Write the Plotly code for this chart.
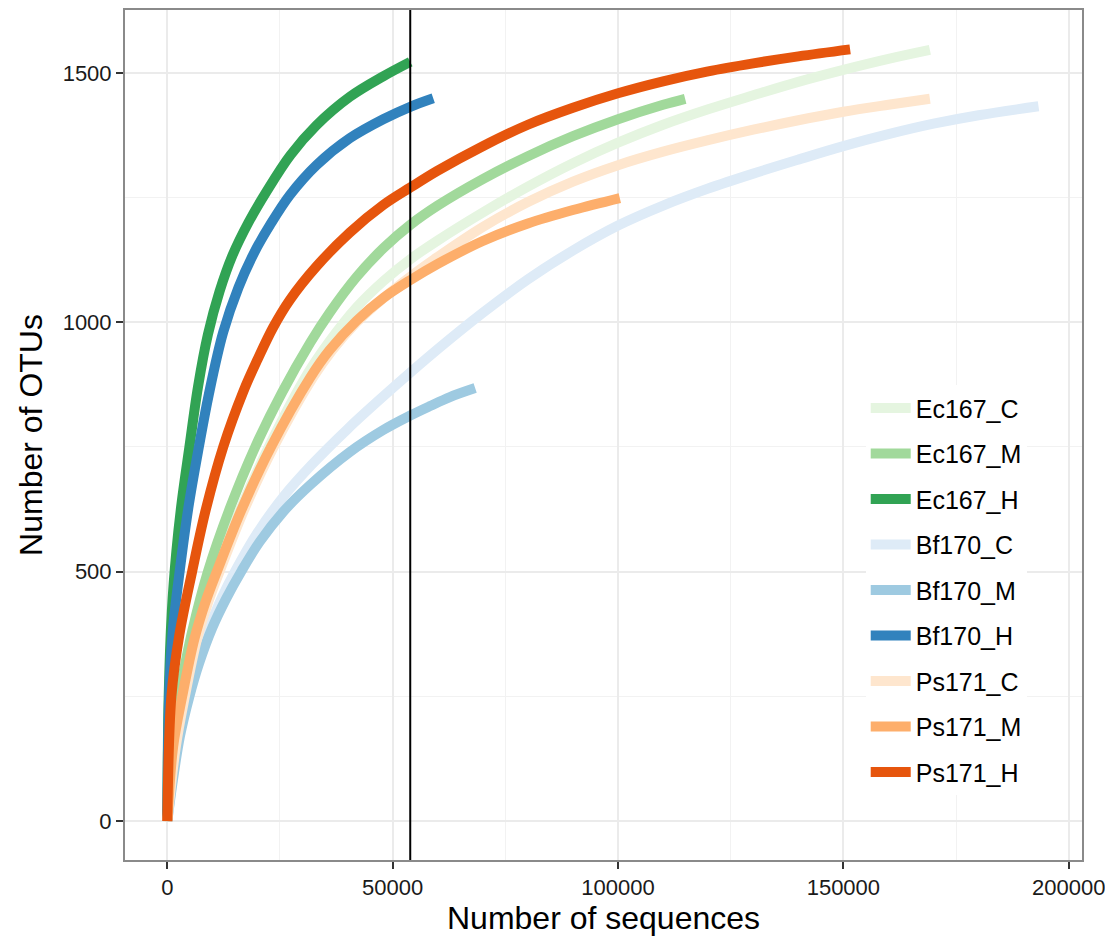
import plotly.graph_objects as go

# ---------------- data ----------------
series_names = ["Ec167_C", "Ec167_M", "Ec167_H",
                "Bf170_C", "Bf170_M", "Bf170_H",
                "Ps171_C", "Ps171_M", "Ps171_H"]
series_colors = ["#e5f5e0", "#a1d99b", "#31a354",
                 "#deebf7", "#9ecae1", "#3182bd",
                 "#fee6ce", "#fdae6b", "#e6550d"]

ec167_c_x = [0, 1100, 3100, 5800, 8300, 11000, 16200, 22500, 31000, 36000, 42000, 48000, 54000,
             60000, 70000, 80000, 90000, 100000, 110000, 120000, 130000, 140000, 150000, 160000, 169200]
ec167_c_y = [0, 150, 250, 365, 440, 505, 625, 750, 895, 962, 1030, 1083, 1127,
             1164, 1220, 1272, 1319, 1360, 1396, 1427, 1455, 1482, 1506, 1528, 1546]

ec167_m_x = [0, 1200, 3200, 5500, 9000, 14000, 19500, 25500, 31700, 36000, 42000, 48000, 54000,
             60000, 70000, 80000, 90000, 100000, 110000, 114900]
ec167_m_y = [0, 180, 280, 380, 500, 630, 750, 860, 959, 1019, 1091, 1149, 1196,
             1234, 1287, 1333, 1373, 1407, 1436, 1448]

ec167_h_x = [0, 300, 1000, 2000, 3200, 4900, 6800, 9000, 11600, 14500, 18000, 22000, 27300,
             33100, 40500, 47900, 53900]
ec167_h_y = [0, 250, 420, 540, 640, 750, 870, 975, 1062, 1135, 1200, 1262, 1335,
             1395, 1452, 1493, 1522]

bf170_c_x = [0, 1100, 2600, 4600, 6600, 9400, 12200, 15000, 20000, 26000, 32000, 40000, 50000,
             60000, 70000, 80000, 90000, 100000, 110000, 120000, 130000, 140000, 150000, 160000,
             170000, 180000, 193300]
bf170_c_y = [0, 80, 170, 250, 320, 390, 450, 500, 578, 653, 714, 786, 868,
             946, 1019, 1086, 1144, 1194, 1234, 1268, 1298, 1326, 1353, 1377,
             1398, 1415, 1433]

bf170_m_x = [0, 1200, 2800, 4900, 7000, 10000, 13000, 16500, 20500, 25700, 31700, 40500, 47900,
             53900, 58300, 62700, 68300]
bf170_m_y = [0, 80, 170, 250, 315, 388, 445, 502, 560, 620, 674, 740, 784,
             813, 832, 850, 868]

bf170_h_x = [0, 400, 1200, 2800, 4700, 7000, 9200, 12400, 15800, 19300, 22800, 27200, 33100,
             40500, 47900, 53900, 59000]
bf170_h_y = [0, 250, 380, 505, 630, 750, 855, 980, 1070, 1140, 1195, 1255, 1315,
             1369, 1407, 1432, 1449]

ps171_c_x = [0, 1900, 3900, 6600, 9100, 11800, 17100, 23600, 32300, 36600, 42000, 48000, 54000,
             60000, 70000, 80000, 90000, 100000, 110000, 120000, 130000, 140000, 150000, 160000, 169200]
ps171_c_y = [0, 150, 250, 365, 440, 505, 625, 750, 889, 944, 1000, 1049, 1092,
             1131, 1191, 1241, 1282, 1315, 1342, 1365, 1386, 1405, 1422, 1436, 1448]

ps171_m_x = [0, 1300, 3300, 6000, 8500, 11200, 16500, 23000, 31700, 36000, 42000, 48000, 54000,
             60000, 70000, 80000, 90000, 100400]
ps171_m_y = [0, 150, 250, 365, 440, 505, 625, 750, 889, 944, 1003, 1049, 1085,
             1117, 1163, 1198, 1225, 1249]

ps171_h_x = [0, 900, 2700, 5500, 8500, 12400, 16900, 20000, 23500, 27200, 33100, 40500, 47900,
             53900, 60000, 70000, 80000, 90000, 100000, 110000, 120000, 130000, 140000, 151500]
ps171_h_y = [0, 250, 375, 500, 623, 750, 862, 925, 990, 1045, 1112, 1180, 1235,
             1270, 1304, 1353, 1396, 1430, 1459, 1483, 1503, 1519, 1533, 1547]

series_x = [ec167_c_x, ec167_m_x, ec167_h_x, bf170_c_x, bf170_m_x, bf170_h_x,
            ps171_c_x, ps171_m_x, ps171_h_x]
series_y = [ec167_c_y, ec167_m_y, ec167_h_y, bf170_c_y, bf170_m_y, bf170_h_y,
            ps171_c_y, ps171_m_y, ps171_h_y]

cutoff_x = 53900  # vertical reference line

x_tick_vals = [0, 50000, 100000, 150000, 200000]
x_tick_text = ["0", "50000", "100000", "150000", "200000"]
y_tick_vals = [0, 500, 1000, 1500]
y_tick_text = ["0", "500", "1000", "1500"]

x_title = "Number of sequences"
y_title = "Number of OTUs"

# ---------------- figure ----------------
FONT = "Liberation Sans, Arial, Helvetica, sans-serif"
fig = go.Figure()

for name, col, xs, ys in zip(series_names, series_colors, series_x, series_y):
    fig.add_trace(go.Scatter(
        x=xs, y=ys, mode="lines", name=name,
        line=dict(color=col, width=10, shape="spline", smoothing=1.0),
        showlegend=False, hoverinfo="skip"))

# legend-only traces (thicker keys)
for name, col in zip(series_names, series_colors):
    fig.add_trace(go.Scatter(
        x=[None], y=[None], mode="lines", name=name, legendgroup=name,
        line=dict(color=col, width=11), showlegend=True))

fig.add_shape(type="line", xref="x", yref="paper", x0=cutoff_x, x1=cutoff_x, y0=0, y1=1,
              line=dict(color="black", width=2), layer="above")

axis_common = dict(
    showline=True, linecolor="#8a8a8a", linewidth=2, mirror=True,
    ticks="outside", ticklen=7, tickwidth=1.8, tickcolor="#333333",
    showgrid=True, gridcolor="#ebebeb", gridwidth=1.5,
    zeroline=False,
    tickfont=dict(family=FONT, size=22, color="#1a1a1a"),
)

# page body has an 8px margin, so the figure is sized/offset to land on the same pixels
fig.update_layout(
    width=1105, height=932,
    margin=dict(l=117, r=31, t=0, b=80),
    paper_bgcolor="white", plot_bgcolor="white",
    font=dict(family=FONT, color="black"),
    xaxis=dict(axis_common, range=[-9390, 202950], tickvals=x_tick_vals, ticktext=x_tick_text,
               minor=dict(dtick=25000, tick0=0, showgrid=True, gridcolor="#f2f2f2", gridwidth=1.2, ticks=""),
               title=dict(text=x_title, font=dict(family=FONT, size=32, color="black"), standoff=0)),
    yaxis=dict(axis_common, range=[-78, 1626], tickvals=y_tick_vals, ticktext=y_tick_text,
               minor=dict(dtick=250, tick0=0, showgrid=True, gridcolor="#f2f2f2", gridwidth=1.2, ticks=""),
               title=dict(text=y_title, font=dict(family=FONT, size=32, color="black"), standoff=10)),
    legend=dict(x=0.774, y=0.5585, xanchor="left", yanchor="top",
                bgcolor="white", borderwidth=0,
                font=dict(family=FONT, size=25, color="black"),
                tracegroupgap=10, itemwidth=40),
)

fig.write_html("out.html")
